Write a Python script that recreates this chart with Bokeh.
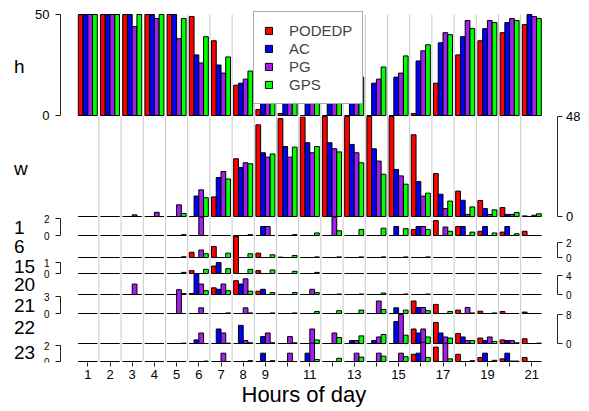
from bokeh.plotting import figure
from bokeh.models import (Range1d, LinearAxis, FixedTicker, ColumnDataSource,
                          Legend, LegendItem, Title)
from bokeh.transform import dodge
from bokeh.core.properties import value
from bokeh.embed import file_html
from bokeh.resources import INLINE

# ---------------- data ----------------
HOURS = list(range(1, 22))
SERIES = ["PODEDP", "AC", "PG", "GPS"]
COLORS = ["#FF0000", "#0000FF", "#A020F0", "#00FF00"]

H_PODEDP = [50, 50, 50, 50, 50, 49, 37, 15, 3, 1, 0, 0, 0, 0, 0, 1, 16, 30, 37, 41, 45]
H_AC = [50, 50, 50, 50, 50, 30, 25, 16, 13, 12, 12, 13, 14, 16, 19, 27, 36, 39, 43, 46, 50]
H_PG = [50, 50, 44, 48, 38, 26, 21, 18, 12, 11, 11, 12, 14, 18, 21, 32, 41, 47, 47, 48, 49]
H_GPS = [50, 50, 50, 50, 48, 39, 29, 22, 15, 14, 14, 16, 19, 24, 29.5, 35, 40, 43, 46, 47, 48]

W_PODEDP = [0, 0, 0, 0, 0, 0, 9.4, 27.7, 44, 47, 47.7, 48, 48, 48, 48, 39.2, 20.6, 12.2, 7.7, 4.3, 0.3]
W_AC = [0, 0, 0, 0, 0, 9.8, 18.7, 23.5, 30.6, 33.6, 35.4, 35.4, 34.6, 32.5, 22.6, 16.8, 10.7, 7.8, 3.8, 1.0, 0]
W_PG = [0, 0, 0.8, 2, 5.6, 12.8, 21.6, 25.8, 28.5, 28.5, 30.6, 32.5, 30.6, 26.6, 19.5, 9.8, 3.8, 1.0, 1.0, 1.0, 0.6]
W_GPS = [0, 0, 0, 0, 1.5, 9.0, 18.0, 25.3, 30.0, 33.3, 33.6, 31.0, 25.8, 20.3, 15.5, 11.2, 7.4, 4.6, 3.2, 1.9, 1.3]

P1_PODEDP = [0, 0, 0, 0, 0, 0, 0, 0, 0, 0, 0, 0, 0, 0, 0, 0.7, 1.76, 1.06, 0.5, 0.4, 0.5]
P1_AC = [0, 0, 0, 0, 0, 0, 0, 0, 1.06, 0, 0, 0, 0, 0, 1.06, 1.06, 0, 1.06, 1.06, 1.06, 0]
P1_PG = [0, 0, 0, 0, 0, 2.15, 0, 0, 1.06, 0, 0, 2.15, 0, 0, 0, 1.06, 1.0, 0, 0, 0, 0]
P1_GPS = [0, 0, 0, 0, 0.1, 0, 0, 0.1, 0, 0.1, 0.3, 0.55, 0.7, 0.86, 0.8, 0.7, 0.5, 0.4, 0.3, 0.2, 0]

P6_PODEDP = [0, 0, 0, 0, 0, 0.7, 1.47, 2.9, 0.58, 0.05, 0, 0, 0, 0, 0, 0, 0, 0, 0, 0, 0]
P6_AC = [0, 0, 0, 0, 0, 0, 0, 0, 0, 0, 0, 0, 0, 0, 0, 0, 0, 0, 0, 0, 0]
P6_PG = [0, 0, 0, 0, 0, 1.0, 0, 0, 0, 0, 0, 0, 0, 0, 0, 0, 0, 0, 0, 0, 0]
P6_GPS = [0, 0, 0, 0, 0.1, 0.5, 0.58, 0.5, 0.36, 0.27, 0.08, 0.08, 0.08, 0.08, 0.08, 0.08, 0, 0, 0, 0, 0]

P15_PODEDP = [0, 0, 0, 0, 0, 0.26, 0.68, 3.35, 0.26, 0, 0, 0, 0, 0, 0, 0, 0, 0, 0, 0, 0]
P15_AC = [0, 0, 0, 0, 0, 0, 1.0, 0, 0, 0, 0, 0, 0, 0, 0, 0, 0, 0, 0, 0, 0]
P15_PG = [0, 0, 0, 0, 0, 0, 0, 0, 0, 0, 0, 0, 0, 0, 0, 0, 0, 0, 0, 0, 0]
P15_GPS = [0, 0, 0, 0, 0.1, 0.38, 0.44, 0.38, 0.32, 0.2, 0.1, 0, 0, 0, 0, 0, 0, 0, 0, 0, 0]

P20_PODEDP = [0, 0, 0, 0, 0, 0.2, 1.4, 2.9, 0.7, 0, 0, 0, 0, 0, 0, 0, 0, 0, 0, 0, 0]
P20_AC = [0, 0, 0, 0, 0, 4.4, 1.1, 2.2, 1.1, 0, 0, 0, 0, 0, 0, 0, 0, 0, 0, 0, 0]
P20_PG = [0, 0, 2.2, 0, 0, 2.2, 2.2, 3.3, 0, 0, 1.1, 0, 0, 0, 0, 0, 0, 0, 0, 0, 0]
P20_GPS = [0, 0, 0, 0, 0.2, 0.8, 0.8, 0.7, 0.4, 0.4, 0.4, 0.1, 0.1, 0.3, 0.1, 0.1, 0, 0, 0, 0, 0]

P21_PODEDP = [0, 0, 0, 0, 0, 0, 0, 0, 0, 0, 0, 0, 0, 0, 0, 2.2, 1.6, 0.6, 0.4, 0.35, 0.25]
P21_AC = [0, 0, 0, 0, 0, 0, 0, 0, 0, 0, 0, 0, 0, 0, 1.0, 1.06, 0, 0, 0, 0, 0]
P21_PG = [0, 0, 0, 0, 4.2, 1.0, 0, 1.0, 0, 0, 0, 0, 0, 2.2, 0, 1.06, 0, 1.06, 0, 0, 0]
P21_GPS = [0, 0, 0, 0, 0, 0, 0.1, 0.1, 0.1, 0.1, 0.35, 0.5, 0.6, 0.7, 0.6, 0.5, 0.35, 0.1, 0.1, 0, 0]

P22_PODEDP = [0, 0, 0, 0, 0, 0, 0, 0, 0, 0, 0, 0, 0, 0, 0, 4.0, 5.8, 2.75, 1.5, 1.0, 1.3]
P22_AC = [0, 0, 0, 0, 0, 1.0, 4.0, 5.0, 1.9, 0, 0, 0, 0.8, 0.8, 6.05, 2.9, 2.9, 1.8, 0.8, 0.8, 0]
P22_PG = [0, 0, 0, 0, 0, 2.9, 2.9, 0.8, 2.9, 1.9, 4.0, 2.9, 0.8, 1.8, 8.0, 4.0, 1.8, 0.8, 1.8, 0.8, 0]
P22_GPS = [0, 0, 0, 0, 0.1, 0, 0.1, 0.2, 0.2, 0.2, 1.0, 1.65, 2.1, 2.5, 2.3, 1.8, 1.5, 0.8, 0.55, 0.2, 0.1]

P23_PODEDP = [0, 0, 0, 0, 0, 0, 0, 0, 0, 0, 0, 0, 0, 0, 0, 0.9, 1.8, 0.9, 0.5, 0.33, 0.5]
P23_AC = [0, 0, 0, 0, 0, 0, 0, 0, 1.04, 0, 1.04, 0, 0, 0, 0, 1.04, 0, 0, 1.04, 1.04, 0]
P23_PG = [0, 0, 0, 0, 0, 0, 1.04, 0, 0, 1.04, 2.3, 0, 1.04, 1.04, 1.04, 2.4, 2.3, 0, 0, 0.05, 0]
P23_GPS = [0, 0, 0, 0, 0, 0.05, 0, 0.1, 0.1, 0, 0.25, 0.4, 0.55, 0.67, 0.6, 0.5, 0.33, 0.1, 0.15, 0.05, 0]

PANEL_LABELS = ["h", "w", "1", "6", "15", "20", "21", "22", "23"]
PANEL_MAX = [50, 48, 2, 2, 1, 4, 3, 8, 2]
PANEL_DATA = [
    (H_PODEDP, H_AC, H_PG, H_GPS),
    (W_PODEDP, W_AC, W_PG, W_GPS),
    (P1_PODEDP, P1_AC, P1_PG, P1_GPS),
    (P6_PODEDP, P6_AC, P6_PG, P6_GPS),
    (P15_PODEDP, P15_AC, P15_PG, P15_GPS),
    (P20_PODEDP, P20_AC, P20_PG, P20_GPS),
    (P21_PODEDP, P21_AC, P21_PG, P21_GPS),
    (P22_PODEDP, P22_AC, P22_PG, P22_GPS),
    (P23_PODEDP, P23_AC, P23_PG, P23_GPS),
]
X_TITLE = "Hours of day"

# ---------------- layout (page pixels) ----------------
PAGE_L, PAGE_R = 0, 589
FRAME_T, FRAME_B = 0, 362
H_CANVAS = 411
HOUR1_PX, PX_PER_HOUR = 87.3, 22.2

# baseline pixel, top pixel, axis side, label centre pixel, tick font
PANEL_GEOM = [
    (115, 14, "left", 66, "13px"),
    (216, 116, "right", 168, "13px"),
    (235, 218, "left", 227, "10px"),
    (257, 242, "right", 245.5, "10px"),
    (273, 262, "left", 265.5, "10px"),
    (294, 275, "right", 284, "10px"),
    (313, 296, "left", 304.5, "10px"),
    (343, 314, "right", 327, "10px"),
    (361, 345, "left", 352, "10px"),
]
LEFT_AXIS_PX, RIGHT_AXIS_PX = 60, 556.5
LABEL_PX = 13.5
TITLE_LEFT_PX = 241


def hour_of(px):
    return 1 + (px - HOUR1_PX) / PX_PER_HOUR


def panel_range(yb, yt, m):
    s = (yb - yt) / m
    return Range1d(start=-(FRAME_B - yb) / s, end=(yb - FRAME_T) / s)


W_CANVAS = PAGE_R - PAGE_L

p = figure(width=W_CANVAS, height=H_CANVAS,
           x_range=Range1d(hour_of(PAGE_L), hour_of(PAGE_R)),
           y_range=Range1d(FRAME_B, FRAME_T),
           output_backend="svg", toolbar_location=None,
           y_axis_location=None,
           min_border_left=0, min_border_right=0, min_border_top=0,
           min_border_bottom=H_CANVAS - (FRAME_B - FRAME_T))
p.outline_line_color = None
p.grid.visible = False
p.background_fill_color = "white"

names = ["pan%d" % i for i in range(len(PANEL_LABELS))]
p.extra_y_ranges = {n: panel_range(g[0], g[1], m)
                    for n, g, m in zip(names, PANEL_GEOM, PANEL_MAX)}

# vertical separators between hour groups
bounds = [h + 0.5 for h in HOURS[:-1]]
h_top_px = PANEL_GEOM[0][1]
h_base_px = PANEL_GEOM[0][0]
tops = [h_base_px if b < 5 else h_top_px for b in bounds]
p.segment(x0=bounds, x1=bounds, y0=tops, y1=[PANEL_GEOM[-1][0]] * len(bounds),
          line_color="#C8C8C8", line_width=1)

BAR_W = 0.214
OFFS = [-1.5 * BAR_W, -0.5 * BAR_W, 0.5 * BAR_W, 1.5 * BAR_W]

legend_renderers = []
for pi, (name, data) in enumerate(zip(names, PANEL_DATA)):
    src = ColumnDataSource(dict(hour=HOURS, **{s: d for s, d in zip(SERIES, data)}))
    for si, s in enumerate(SERIES):
        r = p.vbar(x=dodge("hour", OFFS[si], range=p.x_range), top=s, bottom=0,
                   width=BAR_W, source=src, fill_color=COLORS[si],
                   line_color="black", line_width=1, y_range_name=name)
        if pi == 0:
            legend_renderers.append(r)

# panel axes
for name, g, m in zip(names, PANEL_GEOM, PANEL_MAX):
    side = g[2]
    ax = LinearAxis(y_range_name=name,
                    ticker=FixedTicker(ticks=[0, m], minor_ticks=[]),
                    bounds=(0, m),
                    fixed_location=hour_of(LEFT_AXIS_PX if side == "left" else RIGHT_AXIS_PX),
                    major_tick_out=5, major_tick_in=0,
                    minor_tick_out=0, minor_tick_in=0,
                    axis_line_color="#222222", major_tick_line_color="#222222",
                    major_label_text_font="Liberation Sans",
                    major_label_text_font_size=g[4],
                    major_label_text_color="black",
                    major_label_standoff=6 if side == "left" else 4)
    p.add_layout(ax, side)

# panel names
p.text(x=[hour_of(LABEL_PX)] * len(PANEL_LABELS), y=[g[3] for g in PANEL_GEOM],
       text=PANEL_LABELS, text_font=value("Liberation Sans"),
       text_font_size=value("19px"), text_baseline="middle", text_align="left",
       text_color="black")

# x axis
xa = p.xaxis[0]
xa.ticker = FixedTicker(ticks=HOURS, minor_ticks=[])
xa.bounds = (HOURS[0], HOURS[-1])
xa.major_label_overrides = {h: "" for h in HOURS if h >= 10 and h % 2 == 0}
xa.axis_line_color = None
xa.major_tick_out = 4
xa.major_tick_in = 0
xa.major_tick_line_color = "#222222"
xa.major_label_standoff = 3
xa.major_label_text_font = "Liberation Sans"
xa.major_label_text_font_size = "13px"
xa.major_label_text_color = "black"

p.add_layout(Title(text=X_TITLE, align="left", offset=TITLE_LEFT_PX - PAGE_L,
                   standoff=0, vertical_align="top",
                   text_font="Liberation Sans", text_font_size="22px",
                   text_font_style="normal", text_color="black"), "below")

legend = Legend(items=[LegendItem(label=s, renderers=[r]) for s, r in zip(SERIES, legend_renderers)],
                location=(253 - PAGE_L, FRAME_B - 104),
                label_text_font="Liberation Sans", label_text_font_size="15px",
                glyph_width=9, glyph_height=9, label_standoff=16, label_height=17,
                padding=10, spacing=1, margin=0,
                border_line_color="#555555", border_line_width=1,
                background_fill_color="white", background_fill_alpha=1.0)
p.add_layout(legend)

open("out.html", "w").write(file_html(p, INLINE))
